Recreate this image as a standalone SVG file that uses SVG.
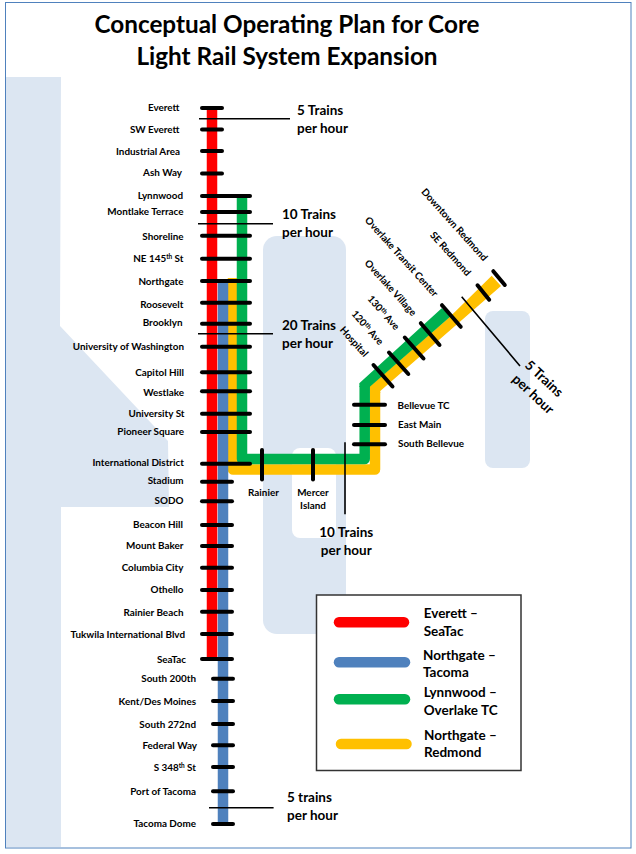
<svg xmlns="http://www.w3.org/2000/svg" width="636" height="854" viewBox="0 0 636 854">
<style>
text{font-family:"Lato","Liberation Sans",sans-serif;font-weight:700;fill:#000}
.t{font-size:24.3px;text-anchor:middle}
.s{font-size:9.9px;text-anchor:end}
.e{font-size:9.9px;text-anchor:start}
.d{font-size:9.9px;text-anchor:middle}
.m{font-size:9.9px;text-anchor:middle}
.h{font-size:13.5px}
.c{text-anchor:middle}
.w{fill:#dce6f2}
.l{fill:none;stroke-width:10.5;stroke-linecap:butt;stroke-linejoin:round}
.o{stroke-linecap:round}
.r{stroke:#f00}.b{stroke:#4f81bd}.g{stroke:#00b050}.y{stroke:#ffc000}
.fg{fill:#00b050}.fy{fill:#ffc000}
.k{stroke:#000;stroke-width:4;stroke-linecap:round;fill:none}
.n{stroke:#000;stroke-width:1.6;fill:none}
.sup{font-size:6.5px}
</style>
<rect x="0" y="0" width="636" height="854" fill="#fff"/>
<g id="water">
<polygon class="w" points="6,77 61,77 60,326 168,441 169,507 61,507 61,847 6,847"/>
<rect class="w" x="263" y="236" width="83" height="398" rx="14"/>
<rect x="292" y="448" width="44" height="90" rx="8" fill="#fff"/>
<rect class="w" x="485" y="311" width="45" height="157" rx="8"/>
</g>
<rect id="frame" x="5.5" y="2.5" width="625.5" height="845.5" fill="none" stroke="#4f81bd" stroke-width="1"/>
<g id="title">
<text class="t" x="287" y="33">Conceptual Operating Plan for Core</text>
<text class="t" x="287" y="65">Light Rail System Expansion</text>
</g>
<g id="connectors">
<path class="l y" d="M233 278V469.5H375V392"/>
<polygon class="fy" points="369.75,393 369.3,386.7 450,316.7 491.7,275.7 501,286 380.25,391 380.25,393"/>
<path class="l g" d="M242 197V459H364.7V386"/>
<polygon class="fg" points="359.45,387 359.3,383.3 441.7,308.3 451,316 369.9,386.7 369.95,387"/>
<path class="l b" d="M223 281V824"/>
<path class="l r" d="M212 108V661"/>
<path class="n" d="M199 118.7H290M198 223.7H273M198 333.7H273M345 442.3V514.3M461.7 296.7L520 366M209 807.7H273.6"/>
</g>
<g id="station-everett"><path class="k" d="M202 108H222"/><text class="s" x="179.5" y="111">Everett</text></g>
<g id="station-sw-everett"><path class="k" d="M202 129.5H222"/><text class="s" x="179.5" y="133">SW Everett</text></g>
<g id="station-industrial-area"><path class="k" d="M202 151H222"/><text class="s" x="180" y="155">Industrial Area</text></g>
<g id="station-ash-way"><path class="k" d="M202 173.5H222"/><text class="s" x="182" y="176">Ash Way</text></g>
<g id="station-lynnwood"><path class="k" d="M202 196H250"/><text class="s" x="183" y="199">Lynnwood</text></g>
<g id="station-montlake-terrace"><path class="k" d="M202 212H250"/><text class="s" x="183.5" y="215">Montlake Terrace</text></g>
<g id="station-shoreline"><path class="k" d="M202 235.7H250"/><text class="s" x="183.5" y="240">Shoreline</text></g>
<g id="station-ne-145th"><path class="k" d="M202 258.7H250"/><text class="s" x="183.5" y="262">NE 145<tspan class="sup" dy="-3">th</tspan><tspan dy="3"> St</tspan></text></g>
<g id="station-northgate"><path class="k" d="M202 281H250"/><text class="s" x="183.5" y="285">Northgate</text></g>
<g id="station-roosevelt"><path class="k" d="M202 302.7H250"/><text class="s" x="183.5" y="308">Roosevelt</text></g>
<g id="station-brooklyn"><path class="k" d="M202 323.7H250"/><text class="s" x="182.5" y="326">Brooklyn</text></g>
<g id="station-uw"><path class="k" d="M202 346.7H250"/><text class="s" x="184" y="350">University of Washington</text></g>
<g id="station-capitol-hill"><path class="k" d="M202 372.3H250"/><text class="s" x="184" y="376">Capitol Hill</text></g>
<g id="station-westlake"><path class="k" d="M202 391.3H250"/><text class="s" x="184" y="396">Westlake</text></g>
<g id="station-university-st"><path class="k" d="M202 413.7H250"/><text class="s" x="184.5" y="417">University St</text></g>
<g id="station-pioneer-square"><path class="k" d="M202 432H250"/><text class="s" x="184" y="435">Pioneer Square</text></g>
<g id="station-international-district"><path class="k" d="M202 463.7H250"/><text class="s" x="184" y="466">International District</text></g>
<g id="station-stadium"><path class="k" d="M202 481.7H232"/><text class="s" x="183.5" y="484">Stadium</text></g>
<g id="station-sodo"><path class="k" d="M202 501.3H232"/><text class="s" x="183.5" y="504">SODO</text></g>
<g id="station-beacon-hill"><path class="k" d="M202 525H232"/><text class="s" x="183" y="528">Beacon Hill</text></g>
<g id="station-mount-baker"><path class="k" d="M202 546H232"/><text class="s" x="183.5" y="549">Mount Baker</text></g>
<g id="station-columbia-city"><path class="k" d="M202 567.7H232"/><text class="s" x="183.5" y="571">Columbia City</text></g>
<g id="station-othello"><path class="k" d="M202 590H232"/><text class="s" x="183.5" y="593">Othello</text></g>
<g id="station-rainier-beach"><path class="k" d="M202 611.7H232"/><text class="s" x="183.5" y="616">Rainier Beach</text></g>
<g id="station-tukwila"><path class="k" d="M202 634H232"/><text class="s" x="185" y="638">Tukwila International Blvd</text></g>
<g id="station-seatac"><path class="k" d="M202 659H232"/><text class="s" x="186" y="663">SeaTac</text></g>
<g id="station-south-200th"><path class="k" d="M213 678.7H233"/><text class="s" x="196" y="682">South 200th</text></g>
<g id="station-kent"><path class="k" d="M213 701H233"/><text class="s" x="196" y="705">Kent/Des Moines</text></g>
<g id="station-south-272nd"><path class="k" d="M213 724H233"/><text class="s" x="196" y="728">South 272nd</text></g>
<g id="station-federal-way"><path class="k" d="M213 745.3H233"/><text class="s" x="197" y="749">Federal Way</text></g>
<g id="station-s-348th"><path class="k" d="M213 767H233"/><text class="s" x="196" y="771">S 348<tspan class="sup" dy="-3">th</tspan><tspan dy="3"> St</tspan></text></g>
<g id="station-port-of-tacoma"><path class="k" d="M213 791.3H233"/><text class="s" x="196" y="795">Port of Tacoma</text></g>
<g id="station-tacoma-dome"><path class="k" d="M213 824H233"/><text class="s" x="196" y="827">Tacoma Dome</text></g>
<g id="station-rainier"><path class="k" d="M262 450V479.5"/><text class="m" x="263.5" y="496">Rainier</text></g>
<g id="station-mercer-island"><path class="k" d="M313 450V479.5"/><text class="m" x="313" y="496">Mercer</text><text class="m" x="313" y="509">Island</text></g>
<g id="station-south-bellevue"><path class="k" d="M354 444.3H385"/><text class="e" x="398" y="447">South Bellevue</text></g>
<g id="station-east-main"><path class="k" d="M354 425H385"/><text class="e" x="398" y="428">East Main</text></g>
<g id="station-bellevue-tc"><path class="k" d="M354 404.7H385"/><text class="e" x="397.5" y="409">Bellevue TC</text></g>
<g id="station-hospital"><path class="k" d="M373.5 365L392.5 386.5"/><text class="d" transform="translate(351.5 344) rotate(48)">Hospital</text></g>
<g id="station-120th"><path class="k" d="M389 352.5L408.3 374"/><text class="d" transform="translate(365 330) rotate(48)">120<tspan class="sup" dy="-3">th</tspan><tspan dy="3"> Ave</tspan></text></g>
<g id="station-130th"><path class="k" d="M404.8 337.5L423.5 358.5"/><text class="d" transform="translate(381 315) rotate(48)">130<tspan class="sup" dy="-3">th</tspan><tspan dy="3"> Ave</tspan></text></g>
<g id="station-overlake-village"><path class="k" d="M420.8 323.2L439.5 345"/><text class="d" transform="translate(388 290) rotate(48)">Overlake Village</text></g>
<g id="station-overlake-tc"><path class="k" d="M442 305.2L460.7 326.8"/><text class="d" transform="translate(399 259) rotate(48)">Overlake Transit Center</text></g>
<g id="station-se-redmond"><path class="k" d="M477.5 285.3L489.2 299.7"/><text class="d" transform="translate(448 256) rotate(48)">SE Redmond</text></g>
<g id="station-downtown-redmond"><path class="k" d="M493.3 271.2L504.8 285"/><text class="d" transform="translate(452 227) rotate(48)">Downtown Redmond</text></g>
<g id="frequency-labels">
<text class="h" x="297" y="115">5 Trains</text><text class="h" x="297" y="133.3">per hour</text>
<text class="h" x="282" y="219">10 Trains</text><text class="h" x="282" y="237.3">per hour</text>
<text class="h" x="282" y="330">20 Trains</text><text class="h" x="282" y="348.3">per hour</text>
<text class="h c" x="346.3" y="536.7">10 Trains</text><text class="h c" x="346.3" y="555">per hour</text>
<text class="h c" transform="translate(541 382) rotate(43)">5 Trains</text>
<text class="h c" transform="translate(530 397.5) rotate(43)">per hour</text>
<text class="h" x="287" y="801.7">5 trains</text><text class="h" x="287" y="820">per hour</text>
</g>
<g id="legend">
<rect x="316.5" y="595" width="204.5" height="175.5" fill="#fff" stroke="#333" stroke-width="1.5"/>
<path class="l o r" d="M339 622.3H404"/><path class="l o b" d="M339 662.3H405"/><path class="l o g" d="M339 699.3H405"/><path class="l o y" d="M341 744H406.5"/>
<text class="h" x="423.7" y="618">Everett –</text><text class="h" x="423.7" y="635.7">SeaTac</text>
<text class="h" x="423" y="659.7">Northgate –</text><text class="h" x="423" y="676.7">Tacoma</text>
<text class="h" x="423.7" y="696.7">Lynnwood –</text><text class="h" x="423.7" y="714.7">Overlake TC</text>
<text class="h" x="424" y="740">Northgate –</text><text class="h" x="424" y="756.7">Redmond</text>
</g>
</svg>
